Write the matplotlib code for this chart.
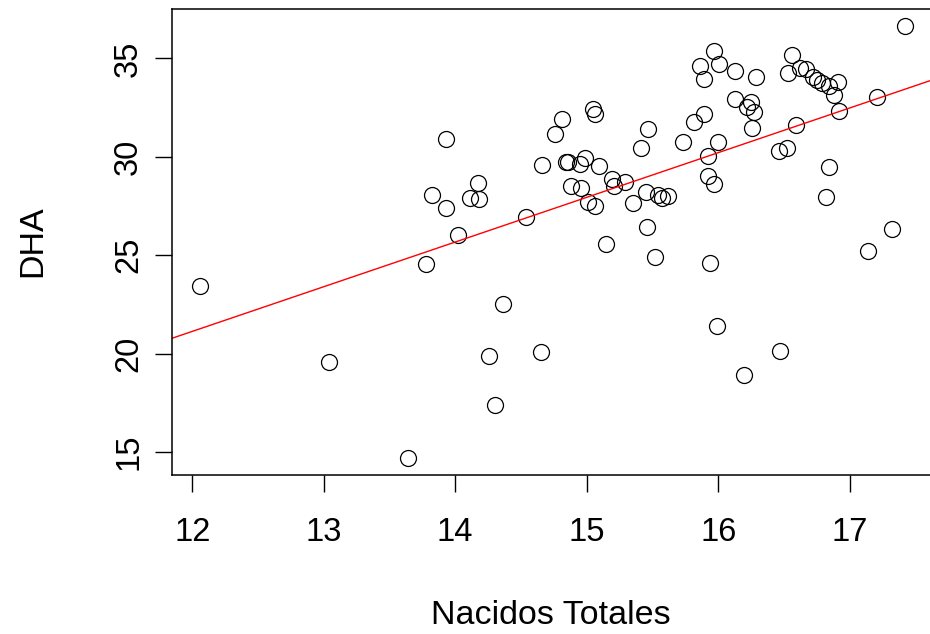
import numpy as np
import matplotlib
matplotlib.use("Agg")
import matplotlib.pyplot as plt

plt.rcParams['font.family'] = ['Liberation Sans', 'DejaVu Sans']

# Nacidos totales vs DHA
nacidos = [12.06, 13.04, 13.64, 13.78, 13.82, 13.93, 13.93, 14.02, 14.11, 14.17,
           14.18, 14.26, 14.30, 14.36, 14.54, 14.65, 14.66, 14.76, 14.81, 14.84,
           14.86, 14.88, 14.95, 14.96, 14.99, 15.01, 15.05, 15.06, 15.06, 15.09,
           15.15, 15.19, 15.21, 15.29, 15.35, 15.41, 15.45, 15.46, 15.47, 15.52,
           15.54, 15.57, 15.62, 15.73, 15.82, 15.86, 15.89, 15.89, 15.92, 15.92,
           15.94, 15.97, 15.97, 15.99, 16.00, 16.01, 16.13, 16.13, 16.20, 16.22,
           16.25, 16.27, 16.26, 16.29, 16.46, 16.47, 16.52, 16.53, 16.56, 16.59,
           16.62, 16.67, 16.72, 16.75, 16.79, 16.82, 16.84, 16.84, 16.88, 16.91,
           16.92, 17.14, 17.21, 17.32, 17.42]
dha = [23.45, 19.59, 14.71, 24.57, 28.07, 30.92, 27.41, 26.04, 27.91, 28.68,
       27.87, 19.89, 17.40, 22.53, 26.96, 20.09, 29.59, 31.17, 31.93, 29.74,
       29.72, 28.53, 29.64, 28.43, 29.95, 27.71, 32.44, 32.19, 27.51, 29.55,
       25.58, 28.89, 28.53, 28.73, 27.66, 30.46, 28.23, 26.45, 31.42, 24.93,
       28.07, 27.92, 28.02, 30.76, 31.77, 34.63, 33.97, 32.18, 30.05, 29.03,
       24.61, 28.63, 35.39, 21.42, 30.76, 34.73, 32.95, 34.37, 18.92, 32.54,
       32.80, 32.29, 31.48, 34.06, 30.30, 20.14, 30.46, 34.28, 35.19, 31.63,
       34.53, 34.48, 34.07, 33.92, 33.77, 27.97, 33.61, 29.50, 33.15, 33.81,
       32.34, 25.23, 33.05, 26.34, 36.66]

x = np.array(nacidos)
y = np.array(dha)

fig = plt.figure(figsize=(9.3, 6.34), dpi=100)
ax = fig.add_axes([172 / 930, 159 / 634, 761 / 930, 466.5 / 634])

ax.plot(x, y, 'o', mfc='none', mec='black', ms=11.5, mew=0.9)

# regression line like abline(lm(...))
b, a = np.polyfit(x, y, 1)
ax.axline((0, a), slope=b, color='red', lw=1)

# R style 4% padding
dx = (x.max() - x.min()) * 0.04
dy = (y.max() - y.min()) * 0.04
ax.set_xlim(x.min() - dx, x.max() + dx)
ax.set_ylim(y.min() - dy, y.max() + dy)

ax.set_xticks([12, 13, 14, 15, 16, 17])
ax.set_yticks([15, 20, 25, 30, 35])
ax.tick_params(length=12, width=1, labelsize=23.5, pad=18)
ax.tick_params(axis='y', pad=8)
for lab in ax.get_yticklabels():
    lab.set_rotation(90)
    lab.set_va('center')
for s in ax.spines.values():
    s.set_linewidth(1.1)

fig.text(551 / 930, 1 - 616 / 634, 'Nacidos Totales', fontsize=24.5, ha='center', va='center')
fig.text(33 / 930, 1 - 241 / 634, 'DHA', fontsize=24.5, ha='center', va='center', rotation=90)

fig.savefig('out.png', dpi=100)
